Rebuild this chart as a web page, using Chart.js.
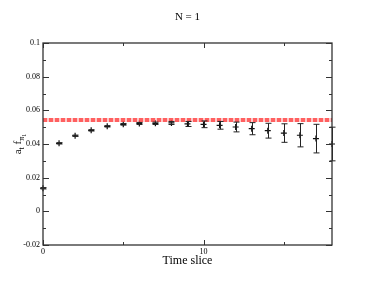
<!DOCTYPE html>
<html>
<head>
<meta charset="utf-8">
<script src="https://cdn.jsdelivr.net/npm/chart.js@4.4.1/dist/chart.umd.min.js"></script>
<style>
    html, body { margin: 0; padding: 0; background: #fff; }
    #wrap { width: 374px; height: 289px; }
</style>
</head>
<body>
<div id="wrap"><canvas id="plot" width="374" height="289"></canvas></div>
<script>
// Date
const timeSlices = [0, 1, 2, 3, 4, 5, 6, 7, 8, 9, 10, 11, 12, 13, 14, 15, 16, 17, 18];
const values = [0.0137, 0.0404, 0.0449, 0.0481, 0.0505, 0.0517, 0.0522, 0.0523, 0.0525, 0.0519,
                0.0517, 0.0511, 0.0501, 0.0491, 0.0479, 0.0465, 0.0452, 0.0432, 0.0400];
const errors = [0.0004, 0.0004, 0.0004, 0.0004, 0.0004, 0.0005, 0.0006, 0.0007, 0.0009, 0.0015,
                0.0020, 0.0023, 0.0029, 0.0036, 0.0044, 0.0055, 0.0069, 0.0085, 0.0100];
const fitValue = 0.0543;
const fitRange = [0, 18];
const xLabelValues = [0, 10];
const xMajor = [0, 10];
const xMinor = [5, 15];
const yMajor = [-0.02, 0, 0.02, 0.04, 0.06, 0.08, 0.1];
const yMinor = [-0.01, 0.01, 0.03, 0.05, 0.07, 0.09];

const serif = '"Liberation Serif", "DejaVu Serif", serif';

// Rame, ticks spre interior si bare de eroare
const framePlugin = {
    id: 'frame',
    afterDatasetsDraw(chart) {
        const { ctx, chartArea: a, scales: { x, y } } = chart;
        ctx.save();

        // bare de eroare
        ctx.strokeStyle = '#222';
        ctx.lineWidth = 1;
        timeSlices.forEach((t, i) => {
            const px = Math.round(x.getPixelForValue(t)) + 0.5;
            const top = y.getPixelForValue(values[i] + errors[i]);
            const bot = y.getPixelForValue(values[i] - errors[i]);
            ctx.beginPath();
            ctx.moveTo(px, top); ctx.lineTo(px, bot);
            ctx.moveTo(px - 3, top); ctx.lineTo(px + 3, top);
            ctx.moveTo(px - 3, bot); ctx.lineTo(px + 3, bot);
            ctx.stroke();
        });

        ctx.strokeStyle = '#333';
        ctx.lineWidth = 1;
        ctx.beginPath();
        const tickX = (v, len) => {
            const px = Math.round(x.getPixelForValue(v)) + 0.5;
            ctx.moveTo(px, a.bottom); ctx.lineTo(px, a.bottom - len);
            ctx.moveTo(px, a.top); ctx.lineTo(px, a.top + len);
        };
        const tickY = (v, len) => {
            const py = Math.round(y.getPixelForValue(v)) + 0.5;
            ctx.moveTo(a.left, py); ctx.lineTo(a.left + len, py);
            ctx.moveTo(a.right, py); ctx.lineTo(a.right - len, py);
        };
        xMajor.forEach(v => tickX(v, 5));
        xMinor.forEach(v => tickX(v, 3));
        yMajor.forEach(v => tickY(v, 6));
        yMinor.forEach(v => tickY(v, 3));
        ctx.stroke();

        ctx.lineWidth = 1.3;
        ctx.strokeRect(a.left, a.top, a.right - a.left, a.bottom - a.top);

        // titlu si eticheta axei x
        ctx.fillStyle = '#000';
        ctx.font = '11px ' + serif;
        ctx.textAlign = 'center';
        ctx.textBaseline = 'middle';
        ctx.fillText('N = 1', (a.left + a.right) / 2, 17);
        ctx.font = '12px ' + serif;
        ctx.fillText('Time slice', (a.left + a.right) / 2, 261);

        // eticheta axei y: a_t f_{pi_1}
        ctx.translate(18, (a.top + a.bottom) / 2);
        ctx.rotate(-Math.PI / 2);
        ctx.textAlign = 'left';
        ctx.textBaseline = 'alphabetic';
        const parts = [
            { s: 'a', size: 11, dy: 0 },
            { s: 't', size: 8, dy: 3 },
            { s: ' f', size: 11, dy: 0 },
            { s: '\u03C0', size: 8, dy: 3 },
            { s: '1', size: 6, dy: 5 }
        ];
        let total = 0;
        parts.forEach(p => { ctx.font = p.size + 'px ' + serif; p.w = ctx.measureText(p.s).width; total += p.w; });
        let cx = -total / 2;
        parts.forEach(p => {
            ctx.font = p.size + 'px ' + serif;
            ctx.fillText(p.s, cx, 3 + p.dy);
            cx += p.w;
        });
        ctx.restore();
    }
};

const fitData = fitRange.map(t => ({ x: t, y: fitValue }));

new Chart(document.getElementById('plot'), {
    type: 'scatter',
    data: {
        datasets: [
            {
                data: fitData,
                showLine: true,
                borderColor: 'rgba(255, 60, 60, 0.75)',
                borderWidth: 4,
                borderDash: [4, 2],
                pointRadius: 0,
                order: 0
            },
            {
                data: fitData,
                showLine: true,
                borderColor: 'rgba(255, 120, 120, 0.4)',
                borderWidth: 4,
                pointRadius: 0,
                order: 1
            },
            {
                data: timeSlices.map((t, i) => ({ x: t, y: values[i] })),
                pointStyle: 'cross',
                pointRadius: 3,
                borderColor: '#111',
                backgroundColor: '#111',
                borderWidth: 1.2,
                clip: false,
                order: 2
            }
        ]
    },
    options: {
        responsive: false,
        animation: false,
        layout: { padding: { top: 43, right: 42, left: 0, bottom: 0 } },
        plugins: {
            legend: { display: false },
            tooltip: { enabled: false },
            title: { display: false }
        },
        scales: {
            x: {
                type: 'linear',
                min: 0,
                max: 18,
                grid: { display: false, drawTicks: false },
                border: { display: false },
                ticks: {
                    stepSize: 5,
                    autoSkip: false,
                    maxRotation: 0,
                    padding: 2,
                    color: '#000',
                    font: { family: serif, size: 8 },
                    callback: v => xLabelValues.includes(v) ? String(v) : ''
                },
                afterFit: s => { s.height = 44; }
            },
            y: {
                min: -0.02,
                max: 0.1,
                grid: { display: false, drawTicks: false },
                border: { display: false },
                ticks: {
                    stepSize: 0.02,
                    padding: 3,
                    color: '#000',
                    font: { family: serif, size: 8 },
                    callback: v => String(Math.round(v * 100) / 100)
                },
                afterFit: s => { s.width = 43; }
            }
        }
    },
    plugins: [framePlugin]
});
</script>
</body>
</html>
